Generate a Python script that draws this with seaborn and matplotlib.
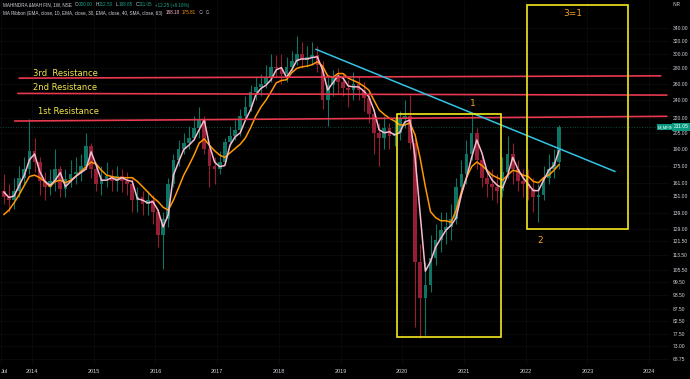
import numpy as np
import pandas as pd
import matplotlib
matplotlib.use("Agg")
import matplotlib.pyplot as plt
from matplotlib.patches import Rectangle
import seaborn as sns

# Monthly candles Jul 2013 .. Jul 2022
months = pd.date_range("2013-07-01", "2022-07-01", freq="MS")
closes = [150, 148, 155, 165, 172, 188,
          178, 162, 158, 162, 172, 156, 164, 168, 170, 175, 192, 172,
          160, 164, 166, 162, 166, 162, 160, 148, 150, 145, 148, 140,
          125, 135, 160, 180, 190, 195, 200, 210, 218, 190, 175, 172,
          178, 196, 202, 208, 222, 232, 250, 256, 260, 268, 282, 280,
          272, 282, 290, 300, 292, 296, 298, 285, 240, 258, 268, 262,
          255, 252, 260, 252, 242, 225, 205, 200, 210, 202, 205, 220,
          222, 195, 110, 92, 98, 112, 122, 128, 130, 135, 158, 168,
          185, 205, 180, 165, 160, 158, 155, 170, 185, 172, 162, 160,
          156, 150, 152, 165, 172, 178, 211.05]
highs = [168, 160, 165, 175, 182, 219,
         200, 182, 170, 172, 190, 175, 172, 180, 182, 185, 205, 195,
         178, 175, 178, 172, 175, 172, 170, 165, 158, 155, 155, 152,
         142, 140, 165, 185, 198, 205, 212, 222, 232, 222, 195, 182,
         188, 200, 212, 218, 230, 245, 258, 268, 272, 285, 300, 298,
         300, 296, 305, 328, 318, 312, 318, 312, 290, 268, 278, 280,
         272, 265, 275, 270, 262, 250, 230, 215, 222, 215, 220, 228,
         240, 246, 200, 120, 110, 125, 132, 140, 140, 145, 165, 180,
         198, 225, 210, 185, 172, 172, 168, 182, 202, 195, 180, 172,
         172, 165, 160, 175, 185, 190, 213]
lows = [145, 140, 142, 150, 160, 168,
        170, 152, 148, 152, 155, 150, 150, 158, 160, 162, 172, 165,
        155, 152, 158, 155, 155, 154, 152, 140, 140, 138, 138, 132,
        118, 106, 130, 158, 175, 185, 190, 198, 200, 185, 158, 160,
        168, 176, 192, 198, 202, 218, 228, 240, 245, 255, 262, 268,
        260, 262, 275, 285, 280, 282, 285, 275, 230, 212, 245, 248,
        245, 232, 240, 240, 228, 215, 185, 175, 190, 190, 192, 198,
        210, 190, 80, 76, 77, 95, 108, 115, 120, 122, 132, 150,
        160, 180, 172, 158, 150, 148, 146, 150, 165, 160, 155, 150,
        148, 140, 133, 148, 160, 165, 172]
first_open = 155

# MA ribbon lines as drawn (pink = EMA 10, orange = EMA 30)
ema_fast = [154, 150, 151, 159, 167, 180,
            185, 170, 162, 159, 163, 169, 158, 162, 166, 169, 172, 187,
            175, 163, 163, 165, 163, 165, 163, 162, 149, 148, 146, 147,
            141, 130, 138, 167, 178, 189, 193, 198, 208, 218, 193, 178,
            174, 175, 193, 201, 205, 218, 229, 246, 254, 258, 265, 278,
            281, 268, 278, 291, 293, 293, 295, 296, 278, 252, 261, 270,
            267, 257, 256, 256, 251, 244, 229, 208, 205, 206, 203, 205,
            216, 218, 182, 138, 105, 110, 118, 123, 128, 131, 136, 152,
            165, 182, 198, 186, 170, 163, 159, 157, 167, 182, 172, 165,
            160, 155, 155, 163, 171, 175, 188.18]
ema_slow = [138, 141, 146, 152, 159, 166,
            167, 165, 162, 158, 162, 163, 161, 163, 166, 170, 174, 178,
            176, 171, 167, 166, 165, 165, 165, 165, 162, 158, 154, 150,
            147, 143, 141, 148, 157, 167, 175, 184, 195, 199, 193, 188,
            184, 182, 186, 190, 194, 200, 210, 222, 232, 240, 250, 261,
            264, 265, 274, 280, 282, 283, 285, 289, 283, 270, 268, 273,
            273, 267, 264, 261, 257, 252, 240, 229, 224, 220, 217, 213,
            213, 215, 203, 181, 158, 140, 136, 134, 134, 133, 141, 154,
            165, 174, 178, 175, 171, 167, 165, 163, 167, 171, 170, 167,
            166, 162, 161, 165, 167, 171, 175.81]

# drawings on the chart (decimal year, price)
resistances = [("3rd  Resistance", (2013.79, 2024.19), (267, 270)),
               ("2nd Resistance", (2013.77, 2024.29), (248, 246)),
               ("1st Resistance", (2013.72, 2024.29), (217, 222))]
trend_x = [2018.60, 2023.45]
trend_y = [307, 170]
boxes = [((2019.92, 2021.60), (76.5, 225)),
         ((2022.02, 2023.66), (128.6, 380))]
price_ticks = [340, 320, 300, 280, 260, 240, 220, 205, 190, 175, 161, 151,
               139, 129, 121.5, 113.5, 105.5, 99.5, 93.5, 87.5, 82.5, 77.5,
               73, 68.75]
year_ticks = [2013.5] + list(range(2014, 2025))
year_labels = ["Jul"] + [str(y) for y in range(2014, 2025)]
last_price = 211.05

sns.set_style("dark", {"axes.facecolor": "black", "figure.facecolor": "black"})
plt.rcParams['font.family'] = ['Liberation Sans Narrow', 'Liberation Sans', 'DejaVu Sans']

x = np.array(months.year + (months.month - 0.5) / 12)
c = np.array(closes, dtype=float)
o = np.concatenate([[first_open], c[:-1]])
up = c >= o
cols = np.where(up, '#0e7564', '#961e34')

fig = plt.figure(figsize=(6.9, 3.79), dpi=100)
fig.patch.set_facecolor('black')
ax = fig.add_axes([0, 14 / 379, 670 / 690, 365 / 379])
ax.set_facecolor('black')
ax.set_yscale('log')
ax.set_xlim(2013.481, 2024.34)
ax.set_ylim(66.7, 389.6)

# faint grid
for t in price_ticks:
    ax.axhline(t, color='#0e0e0e', lw=0.5, zorder=0)
for t in year_ticks:
    ax.axvline(t, color='#0e0e0e', lw=0.5, zorder=0)

# candles
ax.vlines(x, lows, highs, colors=cols, lw=0.8, zorder=2)
ax.bar(x, np.maximum(np.abs(c - o), 0.5), bottom=np.minimum(o, c),
       width=0.06, color=cols, edgecolor='none', linewidth=0, zorder=2)

# MA ribbon
sns.lineplot(x=x, y=ema_slow, color='#ff9800', lw=1.1, ax=ax, zorder=3)
sns.lineplot(x=x, y=ema_fast, color='#f8bbd0', lw=1.1, ax=ax, zorder=4)

ax.axhline(last_price, color='#0d4a40', lw=0.7, ls=':', zorder=1)

# resistance lines and labels
label_pos = {"3rd  Resistance": (33, 73), "2nd Resistance": (33, 88),
             "1st Resistance": (38, 112)}
for name, xs, ys in resistances:
    ax.plot(xs, ys, color='#e8394f', lw=1.2, zorder=5)
    px, py = label_pos[name]
    fig.text(px / 690, 1 - py / 379, name, color='#f2e64a', fontsize=6,
             va='center', ha='left', family='DejaVu Sans')

ax.plot(trend_x, trend_y, color='#33c3e5', lw=1.1, zorder=5)
for (x0, x1), (y0, y1) in boxes:
    ax.add_patch(Rectangle((x0, y0), x1 - x0, y1 - y0, fill=False,
                           edgecolor='#f5ea1c', lw=1.2, zorder=6))

for txt, (px, py) in [("1", (473, 103)), ("2", (540, 240)), ("3=1", (573, 14))]:
    fig.text(px / 690, 1 - py / 379, txt, color='#f0a020', fontsize=6.5,
             ha='center', va='center', family='DejaVu Sans')

# axes
for s in ax.spines.values():
    s.set_visible(False)
ax.yaxis.tick_right()
ax.set_yticks(price_ticks)
ax.set_yticklabels([f"{t:.2f}" for t in price_ticks])
ax.yaxis.set_minor_locator(matplotlib.ticker.NullLocator())
ax.set_xticks(year_ticks)
ax.set_xticklabels(year_labels)
ax.tick_params(axis='y', length=0, pad=2, labelsize=3.6, labelcolor='#d1d4dc')
ax.tick_params(axis='x', length=0, pad=3, labelsize=4, labelcolor='#d1d4dc')
ax.get_xticklabels()[0].set_horizontalalignment('left')
ax.set_xlabel('')
ax.set_ylabel('')

renderer = fig.canvas.get_renderer()

def ftext(px, py, s, **kw):
    return fig.text(px / 690, 1 - py / 379, s, va='center', ha='left',
                    fontsize=3.3, **kw)

def run(px, py, parts):
    # place pieces one after another on a line
    for s, col, gap in parts:
        t = ftext(px, py, s, color=col)
        px += t.get_window_extent(renderer).width + gap

gray, green = '#d1d4dc', '#1fa187'
run(3, 5, [("MAHINDRA &MAH FIN, 1W, NSE", gray, 3),
           ("O", gray, 0.4), ("200.00", green, 2.5),
           ("H", gray, 0.4), ("212.50", green, 2.5),
           ("L", gray, 0.4), ("198.85", green, 2.5),
           ("C", gray, 0.4), ("211.05", green, 2.5),
           ("+12.25 (+6.16%)", green, 0)])
run(3, 13, [("MA Ribbon (EMA, close, 10, EMA, close, 30, EMA, close, 40, SMA, close, 63)", gray, 3),
            ("188.18", '#f8bbd0', 2.5), ("175.81", '#ff9800', 2.5),
            ("\u2205  \u2205", gray, 0)])
ftext(673, 5, "INR", color=gray)

fig.text(666 / 690, 1 - 127 / 379, "M_MFIN", color='white', fontsize=3,
         ha='center', va='center',
         bbox=dict(facecolor='#089981', edgecolor='none', pad=1))
fig.text(681 / 690, 1 - 127 / 379, "211.05", color='white', fontsize=3.6,
         ha='center', va='center',
         bbox=dict(facecolor='#089981', edgecolor='none', pad=1))

fig.savefig("out.png", dpi=100, facecolor='black')
